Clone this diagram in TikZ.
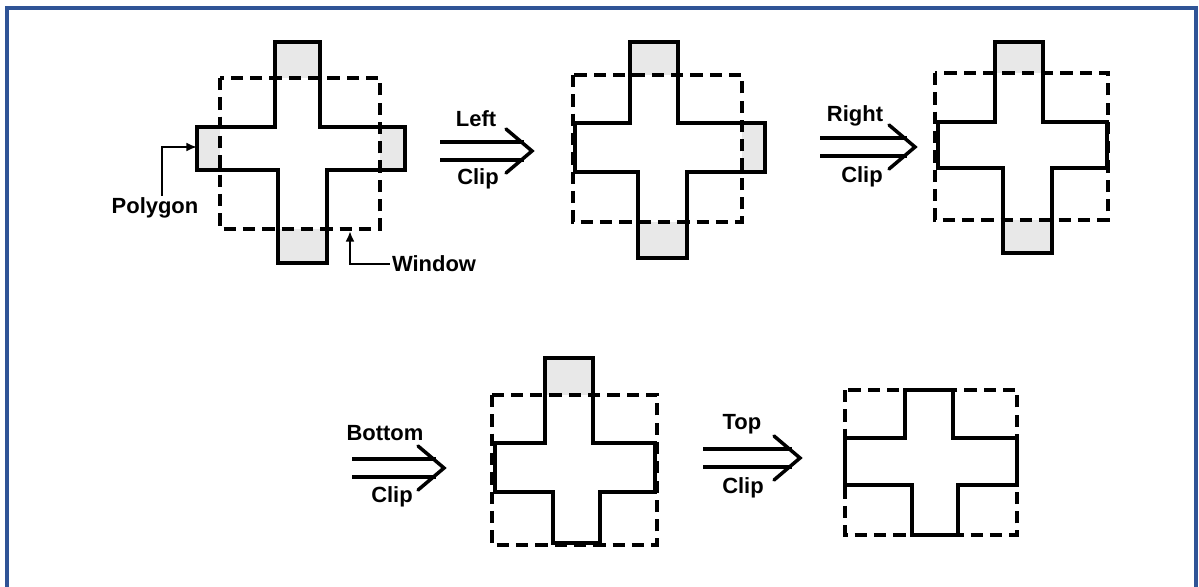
\documentclass[tikz,border=0pt]{standalone}
\usepackage{fontspec}
\setmainfont{Liberation Sans}
\usepackage{tikz}
\usetikzlibrary{arrows.meta, positioning}
\definecolor{frame1}{RGB}{47,84,150}
\definecolor{shade1}{RGB}{232,232,232}

\begin{document}
\begin{tikzpicture}[x=0.02cm, y=-0.02cm,
    polygon/.style={draw=black, line width=2.6pt, line join=miter},
    window/.style={draw=black, line width=2pt, dash pattern=on 7pt off 4pt},
    outside/.style={fill=shade1, draw=none},
    label/.style={font=\fontsize{12.5}{15}\selectfont\bfseries, inner sep=1pt},
    pointer/.style={-{Latex[length=6pt,width=5pt]}, line width=1.6pt},
    clip arrow/.style={double, double distance=8.2pt, line width=1.9pt},
    chevron/.style={line width=2pt, line join=miter, line cap=round},
    frame/.style={draw=frame1, line width=2pt}
]
    \useasboundingbox (0,0) rectangle (1199,587);
    \draw[frame] (7,590) -- (7,8) -- (1196,8) -- (1196,590);

    % original polygon and window
    \fill[outside] (275,42) rectangle (320,78);
    \fill[outside] (278,229) rectangle (327,263);
    \fill[outside] (197,127) rectangle (220,170);
    \fill[outside] (380,127) rectangle (405,170);
    \draw[window] (220,78) rectangle (380,229);
    \draw[polygon] (275,42) -- (320,42) -- (320,127) -- (405,127) -- (405,170) -- (327,170)
        -- (327,263) -- (278,263) -- (278,170) -- (197,170) -- (197,127) -- (275,127) -- cycle;

    \node[label, name=poly] at (155,208) {Polygon};
    \coordinate (polytip) at (197,147);
    \draw[pointer] ([xshift=0.14cm]poly.north) |- (polytip);

    \node[label, name=win] at (434,264) {Window};
    \coordinate (wintip) at (350,231);
    \draw[pointer] (win.west) -| (wintip);

    % left clip
    \coordinate (l1) at (440,151);
    \coordinate (l2) at (532,151);
    \draw[clip arrow] (l1) -- ([xshift=-0.16cm]l2);
    \draw[chevron] ([shift={(-26,-22)}]l2) -- (l2) -- ([shift={(-26,22)}]l2);
    \node[label, name=lefttxt] at (476,119) {Left};
    \node[label, name=leftclip] at (478,179) {Clip};

    \fill[outside] (630,42) rectangle (678,75);
    \fill[outside] (638,222) rectangle (687,258);
    \fill[outside] (742,123) rectangle (765,172);
    \draw[window] (573,75) rectangle (742,222);
    \draw[polygon] (630,42) -- (678,42) -- (678,123) -- (765,123) -- (765,172) -- (687,172)
        -- (687,258) -- (638,258) -- (638,172) -- (575,172) -- (575,123) -- (630,123) -- cycle;

    % right clip
    \coordinate (r1) at (820,147);
    \coordinate (r2) at (915,147);
    \draw[clip arrow] (r1) -- ([xshift=-0.16cm]r2);
    \draw[chevron] ([shift={(-26,-22)}]r2) -- (r2) -- ([shift={(-26,22)}]r2);
    \node[label, name=righttxt] at (855,116) {Right};
    \node[label, name=rightclip] at (862,177) {Clip};

    \fill[outside] (995,42) rectangle (1043,73);
    \fill[outside] (1003,220) rectangle (1052,253);
    \draw[window] (935,73) rectangle (1108,220);
    \draw[polygon] (995,42) -- (1043,42) -- (1043,122) -- (1107,122) -- (1107,168) -- (1052,168)
        -- (1052,253) -- (1003,253) -- (1003,168) -- (938,168) -- (938,122) -- (995,122) -- cycle;

    % bottom clip
    \coordinate (b1) at (352,468);
    \coordinate (b2) at (444,468);
    \draw[clip arrow] (b1) -- ([xshift=-0.16cm]b2);
    \draw[chevron] ([shift={(-26,-22)}]b2) -- (b2) -- ([shift={(-26,22)}]b2);
    \node[label, name=bottomtxt] at (385,433) {Bottom};
    \node[label, name=bottomclip] at (392,497) {Clip};

    \fill[outside] (545,358) rectangle (593,395);
    \draw[window] (492,395) rectangle (657,545);
    \draw[polygon] (545,358) -- (593,358) -- (593,443) -- (655,443) -- (655,492) -- (600,492)
        -- (600,543) -- (553,543) -- (553,492) -- (495,492) -- (495,443) -- (545,443) -- cycle;

    % top clip
    \coordinate (t1) at (703,458);
    \coordinate (t2) at (800,458);
    \draw[clip arrow] (t1) -- ([xshift=-0.16cm]t2);
    \draw[chevron] ([shift={(-26,-22)}]t2) -- (t2) -- ([shift={(-26,22)}]t2);
    \node[label, name=toptxt] at (742,424) {Top};
    \node[label, name=topclip] at (743,488) {Clip};

    \draw[window] (845,390) rectangle (1017,535);
    \draw[polygon] (905,390) -- (953,390) -- (953,438) -- (1017,438) -- (1017,485) -- (958,485)
        -- (958,535) -- (912,535) -- (912,485) -- (845,485) -- (845,438) -- (905,438) -- cycle;
\end{tikzpicture}
\end{document}
